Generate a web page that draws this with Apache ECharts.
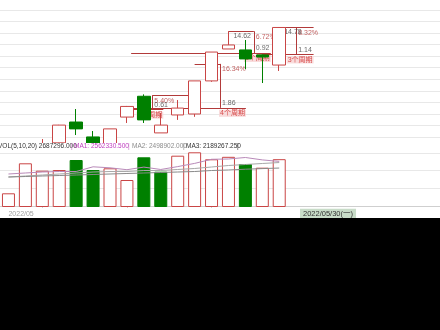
<!DOCTYPE html>
<html><head><meta charset="utf-8">
<script src="https://cdn.jsdelivr.net/npm/echarts@6/dist/echarts.min.js"></script>
<style>html,body{margin:0;padding:0;background:#000;width:440px;height:330px;overflow:hidden}#c{width:440px;height:218px;background:#fff}</style>
</head><body><div id="c"></div><script>
// ---- data ----
const categories = ['2022/05/06','2022/05/09','2022/05/10','2022/05/11','2022/05/12','2022/05/13','2022/05/16','2022/05/17','2022/05/18','2022/05/19','2022/05/20','2022/05/23','2022/05/24','2022/05/25','2022/05/26','2022/05/27','2022/05/30'];
const openP  = [9.30, 9.50, 9.70, 9.90, 10.78, 10.15, 9.86, 10.99, 11.87, 10.32, 11.08, 11.12, 12.52, 13.87, 13.83, 13.62, 13.19];
const closeP = [9.55, 9.80, 9.86, 10.65, 10.49, 9.85, 10.49, 11.44, 10.87, 10.65, 11.37, 12.52, 13.74, 14.04, 13.45, 13.53, 14.78];
const lowP   = [9.20, 9.45, 9.65, 9.85, 10.23, 9.80, 9.82, 10.74, 10.74, 10.32, 10.87, 11.00, 12.48, 13.87, 13.02, 12.43, 12.94];
const highP  = [9.60, 9.85, 10.06, 10.66, 11.33, 10.40, 10.49, 11.46, 11.95, 11.16, 11.71, 12.52, 13.74, 14.62, 14.25, 13.64, 14.80];
const volume = [770000, 2456000, 2040000, 2079000, 2641000, 2079000, 2175000, 1517000, 2793000, 1984000, 2883000, 3074000, 2681000, 2820000, 2417000, 2209000, 2687296];
const volMA1 = [1855000, 1911000, 1967000, 1995000, 1995000, 2259000, 2203000, 2096000, 2242000, 2108000, 2270000, 2450000, 2681000, 2698000, 2782000, 2647000, 2562330];
const volMA2 = [1686000, 1742000, 1798000, 1855000, 1911000, 1967000, 1995000, 1995000, 2051000, 2051000, 2108000, 2164000, 2248000, 2332000, 2388000, 2445000, 2498902];
const volMA3 = [1686000, 1714000, 1742000, 1770000, 1798000, 1827000, 1855000, 1883000, 1911000, 1939000, 1967000, 1995000, 2051000, 2079000, 2124000, 2158000, 2189267];
const volTexts = ['VOL(5,10,20) 2687296.000', 'MA1: 2562330.500', 'MA2: 2498902.000', 'MA3: 2189267.250'];
const monthLabel = '2022/05';
const pointerLabel = '2022/05/30(一)';
// measurement drawings (category-index units, prices)
const measureX     = [12.5, 8.5, 14.5, 17];
const measureLow   = [11.38, 11.30, 13.70, 13.64];
const measureHigh  = [13.24, 11.91, 14.62, 14.78];
const topFrom      = [11, 8.5, 13, 16];
const topTo        = [12.5, 11, 14.5, 18.03];
const baseFrom     = [7.25, 7, 7.25, 15];
const baseTo       = [14.03, 9.15, 15.5, 18.03];
const measurePct   = ['16.34%', '5.40%', '6.72%', '8.32%'];
const measureDiff  = ['1.86', '0.61', '0.92', '1.14'];
const measurePer   = ['4个周期', '1个周期', '1个周期', '3个周期'];
const showEndPrice = [false, false, true, true];

// ---- styling / build ----
function hasFont(f){const c=document.createElement('canvas').getContext('2d');c.font='40px monospace';const a=c.measureText('2687296.000MAmwi').width;c.font='40px "'+f+'", monospace';return c.measureText('2687296.000MAmwi').width!==a;}
const narrow = hasFont('Liberation Sans Narrow');
const FF = narrow ? '"Liberation Sans Narrow", "Noto Sans CJK SC"' : '"Liberation Sans", "Noto Sans CJK SC"';
const FS = narrow ? 7.5 : 6.5;
const N = 26;
const cats = categories.concat(new Array(N - categories.length).fill(''));
const UP = '#c94545', DOWN = '#008000', ANN = '#b23a3a', GRIDC = '#e8e8e8';

const candleData = openP.map((o,i)=>[o, closeP[i], lowP[i], highP[i]]);
const volData = volume.map((v,i)=>{
  const prev = i===0 ? openP[0] : closeP[i-1];
  const up = closeP[i] >= prev;
  return {value:v, itemStyle: up ? {color:'#fff', borderColor:UP, borderWidth:1} : {color:DOWN, borderColor:DOWN, borderWidth:1}};
});

const segs = [];
const labels = [];
measureX.forEach((vx,i)=>{
  segs.push({coords:[[topFrom[i], measureHigh[i]],[topTo[i], measureHigh[i]]]});
  segs.push({coords:[[vx, measureLow[i]],[vx, measureHigh[i]]]});
  segs.push({coords:[[baseFrom[i], measureLow[i]],[baseTo[i], measureLow[i]]]});
  labels.push({value:[vx, measureHigh[i]], label:{formatter:measurePct[i], align:'left', verticalAlign:'top', offset:[1,2], color:ANN}});
  labels.push({value:[vx, measureLow[i]], label:{formatter:measureDiff[i], align:'left', verticalAlign:'bottom', offset:[1,-1], color:'#444'}});
  labels.push({value:[baseTo[i], measureLow[i]], label:{formatter:measurePer[i], align:'right', verticalAlign:'top', offset:[0,2], color:'#d02828', backgroundColor:'#f7d3d3'}});
  if (showEndPrice[i]) labels.push({value:[topFrom[i], measureHigh[i]], label:{formatter:measureHigh[i].toFixed(2), align:'left', verticalAlign:'top', offset:[4,1], color:'#444'}});
});

const hiddenCat = (g)=>({type:'category', gridIndex:g, data:cats, show:false});
const chart = echarts.init(document.getElementById('c'), null, {renderer:'canvas'});
const txt = (x, y, t, fill) => ({type:'text', x:x, y:y, z:101, style:{text:t, fill:fill, font:FS+'px '+FF, textVerticalAlign:'middle'}});
chart.setOption({
  animation:false,
  backgroundColor:'#fff',
  textStyle:{fontFamily:FF},
  grid:[
    {left:-2, top:0, width:442, height:143},
    {left:-2, top:10, width:442, height:127},
    {left:-2, top:150, width:442, height:57},
    {left:-2, top:153, width:442, height:53}
  ],
  xAxis:[
    hiddenCat(0),
    {type:'value', gridIndex:0, min:-0.5, max:25.5, show:false},
    {type:'value', gridIndex:1, show:false},
    hiddenCat(2),
    {type:'category', gridIndex:3, data:cats, offset:3,
      axisLine:{lineStyle:{color:'#cfcfcf'}},
      axisTick:{show:true, alignWithLabel:true, length:2, lineStyle:{color:'#d0d0d0'}, interval:(i)=>i%5===2 && i<15},
      axisLabel:{interval:(i)=>i===0, formatter:(v,i)=>i===0?monthLabel:'', align:'left', margin:2, fontSize:FS+0.5, color:'#a0a0a0', fontFamily:FF}}
  ],
  yAxis:[
    {type:'value', gridIndex:0, min:9.893, max:15.942, show:false, splitLine:{show:false}},
    {type:'value', gridIndex:1, min:0, max:11, interval:1, axisLine:{show:false}, axisTick:{show:false}, axisLabel:{show:false}, splitLine:{show:true, lineStyle:{color:GRIDC, width:1}}},
    {type:'value', gridIndex:2, min:0, max:3203400, show:false, splitLine:{show:false}},
    {type:'value', gridIndex:3, min:0, max:3, interval:1, axisLine:{show:false}, axisTick:{show:false}, axisLabel:{show:false}, splitLine:{show:true, lineStyle:{color:GRIDC, width:1}}}
  ],
  series:[
    {type:'lines', coordinateSystem:'cartesian2d', xAxisIndex:1, yAxisIndex:0, z:1, data:segs, lineStyle:{color:ANN, width:1, opacity:1}, symbol:'none'},
    {type:'scatter', xAxisIndex:1, yAxisIndex:0, z:1, symbolSize:0, data:labels, clip:false,
      label:{show:true, position:[0,0], fontSize:FS+0.5, fontFamily:FF, padding:[0,1]}},
    {type:'candlestick', xAxisIndex:0, yAxisIndex:0, z:2, barWidth:13, data:candleData,
      itemStyle:{color:'#fff', color0:DOWN, borderColor:UP, borderColor0:DOWN, borderWidth:1}},
    {type:'bar', xAxisIndex:3, yAxisIndex:2, barWidth:13, data:volData},
    {type:'line', xAxisIndex:3, yAxisIndex:2, data:volMA1, showSymbol:false, lineStyle:{color:'#b98ab9', width:1}, z:4},
    {type:'line', xAxisIndex:3, yAxisIndex:2, data:volMA2, showSymbol:false, lineStyle:{color:'#a8a8a8', width:1}, z:4},
    {type:'line', xAxisIndex:3, yAxisIndex:2, data:volMA3, showSymbol:false, lineStyle:{color:'#8a8a8a', width:1}, z:4}
  ],
  graphic:[
    {type:'rect', z:100, shape:{x:0, y:143, width:440, height:8}, style:{fill:'#fff'}},
    txt(-2, 146, volTexts[0], '#333'),
    txt(71, 146, '|', '#c070c0'),
    txt(74, 146, volTexts[1], '#c040c0'),
    txt(128, 146, '|', '#c070c0'),
    txt(132, 146, volTexts[2], '#8c8c8c'),
    txt(183, 146, '|', '#8c8c8c'),
    txt(186, 146, volTexts[3], '#333'),
    txt(237, 146, '|', '#333'),
    {type:'text', x:300, y:214, z:101, style:{text:pointerLabel, fill:'#333', font:(FS+1)+'px '+FF, textVerticalAlign:'middle', backgroundColor:'#c8dcc8', padding:[2,3,1,3]}}
  ]
});
</script></body></html>
